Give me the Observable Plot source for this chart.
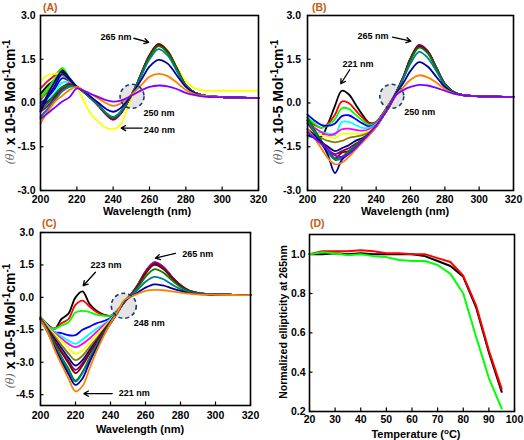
<!DOCTYPE html>
<html><head><meta charset="utf-8">
<script src="https://cdn.jsdelivr.net/npm/d3@7"></script>
<script src="https://cdn.jsdelivr.net/npm/@observablehq/plot@0.6"></script>
<style>
body{margin:0;background:#fff;}
#wrap{position:relative;width:524px;height:440px;overflow:hidden;background:#fff;}
.panel{position:absolute;width:262px;height:220px;}
</style></head><body><div id="wrap"></div>
<script>
const FONT = "'Liberation Sans', Arial, Helvetica, sans-serif";

// wavelength grid (nm)
const wavelengths = [200,204,208,212,216,220,224,228,232,236,240,244,248,252,256,260,265,270,275,280,285,290,300,310,320];

// Origin-style series colours (20 °C ... 95 °C)
const seriesColors = ["#000000","#ff0000","#00ff00","#0000ff","#00ffff","#ff00ff","#ffff00","#808000","#000080","#800080","#800000","#008000","#008080","#0000a0","#ff8000","#8000ff"];

// Panel (A) spectra, one row per temperature
const spectraA = [
 [0.30,0.60,0.80,1.05,0.75,0.55,0.38,0.15,-0.08,-0.35,-0.52,-0.33,0.05,0.50,1.08,1.62,2.00,1.75,1.18,0.60,0.35,0.25,0.20,0.18,0.17],
 [0.50,0.75,0.95,1.15,0.80,0.55,0.38,0.16,-0.08,-0.36,-0.55,-0.35,0.04,0.50,1.10,1.65,2.03,1.78,1.20,0.61,0.35,0.25,0.20,0.18,0.17],
 [0.20,0.50,0.85,1.20,0.85,0.56,0.37,0.15,-0.10,-0.38,-0.56,-0.36,0.03,0.49,1.08,1.63,2.02,1.77,1.19,0.60,0.35,0.25,0.20,0.18,0.17],
 [0.00,0.20,0.50,0.85,0.75,0.56,0.38,0.16,-0.08,-0.35,-0.50,-0.32,0.05,0.50,1.07,1.60,1.98,1.74,1.17,0.60,0.35,0.25,0.20,0.18,0.17],
 [-0.10,0.10,0.35,0.70,0.70,0.55,0.37,0.15,-0.09,-0.36,-0.52,-0.34,0.04,0.50,1.06,1.60,1.97,1.73,1.17,0.59,0.35,0.25,0.20,0.18,0.17],
 [-0.45,-0.20,0.15,0.50,0.68,0.55,0.36,0.14,-0.12,-0.40,-0.58,-0.38,0.02,0.48,1.06,1.62,2.00,1.76,1.18,0.60,0.35,0.25,0.20,0.18,0.17],
 [0.75,0.95,1.00,1.00,0.80,0.55,0.05,-0.40,-0.65,-0.85,-0.90,-0.75,-0.15,0.45,1.05,1.62,2.00,1.78,1.25,0.75,0.50,0.43,0.42,0.42,0.42],
 [0.10,0.40,0.70,0.95,0.75,0.55,0.37,0.15,-0.10,-0.37,-0.54,-0.35,0.04,0.49,1.07,1.61,1.99,1.75,1.18,0.60,0.35,0.25,0.20,0.18,0.17],
 [-0.20,0.30,0.75,1.10,0.85,0.56,0.38,0.16,-0.08,-0.36,-0.53,-0.34,0.04,0.50,1.08,1.62,2.01,1.76,1.19,0.60,0.35,0.25,0.20,0.18,0.17],
 [-0.30,-0.10,0.20,0.45,0.60,0.55,0.37,0.15,-0.10,-0.38,-0.56,-0.36,0.03,0.49,1.07,1.61,2.00,1.75,1.18,0.60,0.35,0.25,0.20,0.18,0.17],
 [-0.10,0.05,0.25,0.55,0.65,0.56,0.38,0.16,-0.09,-0.37,-0.55,-0.35,0.04,0.49,1.08,1.63,2.02,1.77,1.19,0.60,0.35,0.25,0.20,0.18,0.17],
 [-0.25,0.00,0.30,0.55,0.60,0.55,0.37,0.15,-0.09,-0.36,-0.52,-0.33,0.05,0.50,1.06,1.58,1.95,1.72,1.16,0.59,0.35,0.25,0.20,0.18,0.17],
 [-0.50,-0.20,0.10,0.40,0.55,0.55,0.37,0.16,-0.07,-0.33,-0.48,-0.30,0.06,0.48,1.00,1.50,1.85,1.63,1.10,0.58,0.34,0.25,0.20,0.18,0.17],
 [-0.30,0.20,0.60,1.00,0.80,0.56,0.40,0.20,0.00,-0.20,-0.30,-0.18,0.10,0.45,0.85,1.25,1.48,1.35,0.95,0.55,0.33,0.25,0.20,0.18,0.17],
 [-0.70,-0.30,0.05,0.25,0.45,0.55,0.42,0.30,0.15,0.00,-0.10,-0.02,0.18,0.40,0.65,0.90,1.00,0.92,0.70,0.45,0.30,0.25,0.20,0.18,0.17],
 [-0.55,-0.35,-0.15,0.05,0.20,0.50,0.42,0.30,0.20,0.10,0.05,0.08,0.18,0.32,0.45,0.55,0.60,0.57,0.48,0.35,0.27,0.22,0.20,0.18,0.17]
];

// Panel (B) spectra
const spectraB = [
 [-0.90,-1.10,-1.15,-0.70,-0.10,0.42,0.30,-0.05,-0.40,-0.68,-0.65,-0.35,0.00,0.40,0.90,1.50,1.95,1.75,1.20,0.65,0.38,0.28,0.23,0.22,0.20],
 [-0.60,-0.75,-0.85,-0.70,-0.40,0.05,0.00,-0.25,-0.50,-0.70,-0.65,-0.35,0.00,0.41,0.91,1.52,1.97,1.77,1.21,0.65,0.38,0.28,0.23,0.22,0.20],
 [-0.50,-0.70,-0.85,-0.75,-0.55,-0.18,-0.20,-0.40,-0.60,-0.75,-0.68,-0.37,-0.02,0.40,0.89,1.48,1.92,1.73,1.19,0.64,0.38,0.28,0.23,0.22,0.20],
 [-0.40,-0.60,-0.75,-0.78,-0.70,-0.45,-0.42,-0.55,-0.70,-0.80,-0.70,-0.38,-0.03,0.40,0.90,1.50,1.95,1.75,1.20,0.65,0.38,0.28,0.23,0.22,0.20],
 [-1.20,-1.10,-1.00,-1.05,-1.10,-0.65,-0.65,-0.75,-0.85,-0.85,-0.72,-0.40,-0.05,0.41,0.91,1.52,1.97,1.77,1.21,0.65,0.38,0.28,0.23,0.22,0.20],
 [-0.70,-0.85,-1.00,-1.10,-1.05,-0.90,-0.88,-0.92,-0.95,-0.90,-0.75,-0.40,-0.05,0.41,0.92,1.53,1.98,1.78,1.22,0.66,0.38,0.28,0.23,0.22,0.20],
 [-0.90,-1.00,-1.10,-1.15,-1.20,-1.05,-1.05,-1.05,-1.05,-0.95,-0.78,-0.42,-0.05,0.40,0.89,1.49,1.93,1.74,1.19,0.64,0.38,0.28,0.23,0.22,0.20],
 [-1.00,-1.10,-1.20,-1.30,-1.35,-1.30,-1.20,-1.15,-1.10,-1.00,-0.80,-0.43,-0.06,0.40,0.90,1.51,1.96,1.76,1.20,0.65,0.38,0.28,0.23,0.22,0.20],
 [-1.10,-1.20,-1.35,-1.50,-1.65,-1.55,-1.45,-1.30,-1.20,-1.05,-0.82,-0.45,-0.07,0.40,0.90,1.50,1.94,1.74,1.20,0.65,0.38,0.28,0.23,0.22,0.20],
 [-0.70,-1.00,-1.30,-1.60,-1.75,-1.65,-1.55,-1.40,-1.25,-1.05,-0.80,-0.45,-0.07,0.41,0.92,1.53,1.99,1.78,1.22,0.66,0.38,0.28,0.23,0.22,0.20],
 [-0.60,-0.95,-1.30,-1.60,-1.90,-1.70,-1.65,-1.45,-1.25,-1.05,-0.80,-0.44,-0.07,0.40,0.90,1.50,1.95,1.75,1.20,0.65,0.38,0.28,0.23,0.22,0.20],
 [-0.50,-0.90,-1.30,-1.65,-1.90,-1.85,-1.65,-1.45,-1.25,-1.05,-0.80,-0.45,-0.08,0.39,0.88,1.47,1.90,1.71,1.18,0.64,0.38,0.28,0.23,0.22,0.20],
 [-0.60,-1.00,-1.40,-1.70,-1.95,-1.90,-1.70,-1.50,-1.30,-1.05,-0.80,-0.45,-0.08,0.38,0.85,1.35,1.75,1.55,1.10,0.60,0.37,0.28,0.23,0.22,0.20],
 [-0.90,-1.10,-1.35,-1.80,-2.40,-1.95,-1.75,-1.55,-1.30,-1.05,-0.80,-0.45,-0.08,0.35,0.70,1.10,1.40,1.25,0.90,0.55,0.35,0.27,0.23,0.22,0.20],
 [-0.90,-1.20,-1.55,-1.90,-2.10,-2.05,-1.85,-1.60,-1.35,-1.10,-0.82,-0.45,-0.08,0.30,0.55,0.80,0.95,0.88,0.70,0.48,0.33,0.27,0.23,0.22,0.20],
 [-1.00,-1.20,-1.40,-1.60,-1.80,-1.85,-1.75,-1.55,-1.30,-1.05,-0.78,-0.45,-0.07,0.30,0.45,0.55,0.62,0.60,0.52,0.42,0.32,0.27,0.23,0.22,0.20]
];

// Panel (C) spectra
const spectraC = [
 [-0.90,-1.25,-1.45,-1.00,-0.75,0.00,0.28,-0.30,-0.62,-0.80,-0.85,-0.60,-0.20,0.15,0.60,1.15,1.55,1.36,0.93,0.55,0.30,0.20,0.13,0.12,0.12],
 [-0.95,-1.30,-1.45,-1.20,-1.00,-0.35,-0.15,-0.42,-0.68,-0.82,-0.85,-0.60,-0.20,0.15,0.62,1.18,1.60,1.40,0.95,0.56,0.30,0.20,0.13,0.12,0.12],
 [-1.00,-1.35,-1.45,-1.30,-1.15,-0.70,-0.62,-0.68,-0.80,-0.85,-0.85,-0.60,-0.20,0.15,0.61,1.16,1.58,1.38,0.94,0.55,0.30,0.20,0.13,0.12,0.12],
 [-1.00,-1.30,-1.60,-1.65,-1.75,-1.75,-1.50,-1.35,-1.20,-1.10,-0.95,-0.62,-0.20,0.16,0.63,1.19,1.62,1.42,0.96,0.56,0.30,0.20,0.13,0.12,0.12],
 [-0.95,-1.30,-1.60,-1.80,-2.00,-2.15,-1.95,-1.70,-1.45,-1.25,-1.00,-0.63,-0.20,0.15,0.62,1.18,1.60,1.40,0.95,0.56,0.30,0.20,0.13,0.12,0.12],
 [-0.95,-1.35,-1.65,-1.90,-2.15,-2.30,-2.15,-1.90,-1.60,-1.30,-1.05,-0.64,-0.20,0.16,0.63,1.20,1.63,1.43,0.96,0.56,0.30,0.20,0.13,0.12,0.12],
 [-0.90,-1.35,-1.70,-2.00,-2.35,-2.60,-2.45,-2.10,-1.75,-1.40,-1.05,-0.65,-0.20,0.15,0.61,1.16,1.58,1.38,0.94,0.55,0.30,0.20,0.13,0.12,0.12],
 [-0.95,-1.40,-1.80,-2.20,-2.60,-2.90,-2.70,-2.30,-1.90,-1.50,-1.10,-0.66,-0.20,0.15,0.62,1.18,1.60,1.40,0.95,0.56,0.30,0.20,0.13,0.12,0.12],
 [-0.95,-1.45,-1.90,-2.35,-2.80,-3.15,-2.90,-2.45,-2.00,-1.55,-1.12,-0.67,-0.20,0.15,0.60,1.14,1.55,1.36,0.93,0.55,0.30,0.20,0.13,0.12,0.12],
 [-1.00,-1.50,-2.00,-2.50,-2.95,-3.35,-3.05,-2.55,-2.05,-1.60,-1.15,-0.68,-0.20,0.15,0.62,1.18,1.60,1.40,0.95,0.56,0.30,0.20,0.13,0.12,0.12],
 [-1.00,-1.50,-2.05,-2.55,-3.05,-3.50,-3.15,-2.60,-2.10,-1.62,-1.15,-0.68,-0.20,0.14,0.58,1.10,1.50,1.32,0.90,0.54,0.30,0.20,0.13,0.12,0.12],
 [-1.00,-1.55,-2.15,-2.75,-3.30,-3.85,-3.45,-2.80,-2.20,-1.68,-1.18,-0.70,-0.20,0.12,0.50,0.95,1.30,1.15,0.80,0.48,0.28,0.19,0.13,0.12,0.12],
 [-1.00,-1.55,-2.20,-2.80,-3.40,-3.90,-3.50,-2.85,-2.25,-1.70,-1.20,-0.70,-0.18,0.10,0.40,0.72,0.95,0.85,0.60,0.38,0.24,0.17,0.13,0.12,0.12],
 [-1.05,-1.60,-2.30,-2.95,-3.55,-4.05,-3.75,-3.00,-2.35,-1.75,-1.20,-0.70,-0.15,0.05,0.25,0.45,0.60,0.55,0.42,0.30,0.20,0.15,0.12,0.12,0.12],
 [-1.05,-1.60,-2.40,-3.10,-3.75,-4.35,-4.10,-3.30,-2.50,-1.80,-1.20,-0.68,-0.12,0.05,0.18,0.30,0.35,0.33,0.28,0.22,0.17,0.14,0.12,0.11,0.10]
];

// Panel (D) melting curves
const temperatures = [20,25,30,35,40,45,50,55,60,65,70,75,80,85,90,95];
const meltBlack = [1.000,1.000,1.005,1.000,1.005,1.000,1.000,1.000,1.000,0.990,0.965,0.940,0.885,0.730,0.500,0.300];
const meltRed   = [1.000,1.015,1.015,1.015,1.020,1.015,1.005,1.005,1.000,1.000,0.980,0.960,0.890,0.740,0.510,0.315];
const meltGreen = [1.000,1.010,1.005,0.995,1.000,0.990,0.985,0.970,0.965,0.965,0.945,0.900,0.800,0.580,0.370,0.215];

// tick values
const wlTicks = [200,220,240,260,280,300,320];
const thetaTicks = [3,1.5,0,-1.5,-3];
const thetaTicksC = [3,1.5,0,-1.5,-3,-4.5];
const tempTicks = [20,30,40,50,60,70,80,90,100];
const normTicks = [0.2,0.4,0.6,0.8,1.0];

// annotations (in data units)
const notesA = [{text:"265 nm",x:233.0,y:2.25},{text:"250 nm",x:256.7,y:-0.35},{text:"240 nm",x:256.9,y:-0.92}];
const arrowsA = [{x1:251.4,y1:2.22,x2:259.6,y2:2.08},{x1:256.0,y1:-0.86,x2:244.4,y2:-0.86}];
const circleA = [{x:250.4,y:0.23}];
const notesB = [{text:"265 nm",x:229.1,y:2.28},{text:"221 nm",x:220.4,y:1.34},{text:"250 nm",x:256.3,y:-0.31}];
const arrowsB = [{x1:249.5,y1:2.26,x2:260.2,y2:2.12},{x1:224.6,y1:1.14,x2:219.4,y2:0.66}];
const circleB = [{x:249.1,y:0.23}];
const notesC = [{text:"223 nm",x:228.6,y:1.47},{text:"265 nm",x:281.0,y:2.01},{text:"248 nm",x:253.3,y:-1.19},{text:"221 nm",x:244.7,y:-4.45}];
const arrowsC = [{x1:231.4,y1:1.16,x2:224.4,y2:0.54},{x1:277.1,y1:2.04,x2:265.7,y2:1.81},{x1:241.0,y1:-4.45,x2:224.8,y2:-4.45}];
const circleC = [{x:247.6,y:-0.39}];

function longSpectra(rows) {
  const out = [];
  rows.forEach((row, s) => row.forEach((v, i) => out.push({wl: wavelengths[i], v, s, color: seriesColors[s]})));
  return out;
}

const meltData = [];
[[meltBlack,"#000000"],[meltRed,"#ff0000"],[meltGreen,"#00ff00"]].forEach(([arr,c],s) =>
  arr.forEach((v,i) => meltData.push({t: temperatures[i], v, s, color: c})));

function makePanel(cfg) {
  const W = 262, H = 220;
  const fw = W - cfg.ml - cfg.mr, fh = H - cfg.mt - cfg.mb;
  const svg = Plot.plot({
    width: W, height: H,
    marginLeft: cfg.ml, marginRight: cfg.mr, marginTop: cfg.mt, marginBottom: cfg.mb,
    style: {fontFamily: FONT, fontSize: "10.5px", fontWeight: "bold", color: "#000", background: "transparent", overflow: "visible"},
    x: {domain: cfg.xDomain},
    y: {domain: cfg.yDomain},
    color: {type: "identity"},
    marks: [
      ...(cfg.under || []),
      Plot.axisX({ticks: cfg.xTicks, tickSize: 0, tickPadding: cfg.xPad, tickFormat: d => String(d), label: null, fontWeight: "bold", fontSize: 10.5}),
      Plot.axisY({ticks: cfg.yTicks, tickSize: 0, tickPadding: cfg.yPad, tickFormat: d => d.toFixed(1), label: null, fontWeight: "bold", fontSize: 10.5}),
      Plot.tickX(cfg.xTicks, {x: d => d, insetTop: fh - 3.5, strokeWidth: 1.2}),
      Plot.tickY(cfg.yTicks, {y: d => d, insetRight: fw - 3.5, strokeWidth: 1.2}),
      ...cfg.marks,
      Plot.frame({strokeWidth: 1.6})
    ]
  });
  const div = document.createElement("div");
  div.className = "panel";
  div.style.left = cfg.left + "px";
  div.style.top = cfg.top + "px";
  div.appendChild(svg);
  document.getElementById("wrap").appendChild(div);
  const s = d3.select(svg);
  // panel letter
  s.append("text").attr("x", cfg.tag[1]).attr("y", cfg.tag[2]).text(cfg.tag[0])
    .style("font-family", FONT).style("font-weight", "bold").style("font-size", "10.5px")
    .attr("fill", "#c55a11").attr("text-anchor", "start");
  // x label
  const xl = s.append("text").attr("x", cfg.xLabel.x).attr("y", cfg.xLabel.y)
    .style("font-family", FONT).style("font-weight", "bold").style("font-size", "11px")
    .attr("fill", "#000").attr("text-anchor", "middle");
  cfg.xLabel.parts.forEach(p => {
    const t = xl.append("tspan").text(p.t);
    if (p.dy) t.attr("dy", p.dy);
    if (p.size) t.style("font-size", p.size);
  });
  // y label
  const yl = s.append("text")
    .attr("transform", `translate(${cfg.yLabel.x},${cfg.yLabel.y}) rotate(-90)`)
    .style("font-family", FONT).style("font-weight", "bold").style("font-size", cfg.yLabel.size)
    .attr("fill", "#000").attr("text-anchor", "middle").attr("dominant-baseline", "central");
  cfg.yLabel.parts.forEach(p => {
    const t = yl.append("tspan").text(p.t);
    if (p.dy) t.attr("dy", p.dy);
    if (p.size) t.style("font-size", p.size);
    if (p.theta) t.style("font-family", "'DejaVu Serif', serif").style("font-style", "italic").style("font-weight", "normal").attr("fill", "#666");
  });
}

function annotationMarks(notes, arrows, circle, r) {
  return {
    under: [Plot.dot(circle, {x: "x", y: "y", r, fill: "#e4e4e4", stroke: "none"})],
    over: [
      Plot.dot(circle, {x: "x", y: "y", r, fill: "none", stroke: "#1f3864", strokeWidth: 1.6, strokeDasharray: "4,3"}),
      Plot.arrow(arrows, {x1: "x1", y1: "y1", x2: "x2", y2: "y2", stroke: "#000", strokeWidth: 1.3, headLength: 6}),
      Plot.text(notes, {x: "x", y: "y", text: "text", textAnchor: "start", fontSize: 9, fontWeight: "bold", fill: "#000"})
    ]
  };
}

const thetaParts = (sz) => [
  {t: "(θ)", theta: true, size: "11px"},
  {t: " x 10-5 Mol"},
  {t: "-1", dy: -4, size: sz},
  {t: "cm", dy: 4},
  {t: "-1", dy: -4, size: sz}
];

const annA = annotationMarks(notesA, arrowsA, circleA, 12);
const annB = annotationMarks(notesB, arrowsB, circleB, 12);
const annC = annotationMarks(notesC, arrowsC, circleC, 12.5);

const lineOpts = {x: "wl", y: "v", z: "s", stroke: "color", strokeWidth: 1.8, curve: "catmull-rom"};

makePanel({
  left: 0, top: 0, ml: 40, mr: 4, mt: 15, mb: 30,
  xDomain: [200, 320], yDomain: [-3, 3], xTicks: wlTicks, yTicks: thetaTicks, xPad: 5, yPad: 5,
  under: annA.under,
  marks: [Plot.line(longSpectra(spectraA), lineOpts), ...annA.over],
  tag: ["(A)", 43, 11],
  xLabel: {x: 147, y: 215, parts: [{t: "Wavelength (nm)"}]},
  yLabel: {x: 10, y: 102, size: "14px", parts: thetaParts("10px")}
});

makePanel({
  left: 262, top: 0, ml: 45, mr: 11, mt: 15, mb: 30,
  xDomain: [200, 320], yDomain: [-3, 3], xTicks: wlTicks, yTicks: thetaTicks, xPad: 5, yPad: 6.5,
  under: annB.under,
  marks: [Plot.line(longSpectra(spectraB), lineOpts), ...annB.over],
  tag: ["(B)", 50, 11],
  xLabel: {x: 143, y: 215, parts: [{t: "Wavelength (nm)"}]},
  yLabel: {x: 16, y: 102, size: "14px", parts: thetaParts("10px")}
});

makePanel({
  left: 0, top: 220, ml: 40, mr: 12, mt: 12, mb: 35,
  xDomain: [200, 320], yDomain: [-5, 3], xTicks: wlTicks, yTicks: thetaTicksC, xPad: 6, yPad: 6.5,
  under: annC.under,
  marks: [Plot.line(longSpectra(spectraC), lineOpts), ...annC.over],
  tag: ["(C)", 42, 7],
  xLabel: {x: 140, y: 213, parts: [{t: "Wavelength (nm)"}]},
  yLabel: {x: 10, y: 106, size: "14px", parts: thetaParts("10px")}
});

makePanel({
  left: 262, top: 220, ml: 47, mr: 10, mt: 14, mb: 29,
  xDomain: [20, 100], yDomain: [0.2, 1.1], xTicks: tempTicks, yTicks: normTicks, xPad: 4, yPad: 4,
  under: [],
  marks: [Plot.line(meltData, {x: "t", y: "v", z: "s", stroke: "color", strokeWidth: 2})],
  tag: ["(D)", 48, 7],
  xLabel: {x: 154, y: 218, parts: [{t: "Temperature ("}, {t: "o", dy: -4, size: "8px"}, {t: "C)", dy: 4}]},
  yLabel: {x: 21, y: 102, size: "10.5px", parts: [{t: "Normalized ellipticity at 265nm"}]}
});
</script></body></html>
